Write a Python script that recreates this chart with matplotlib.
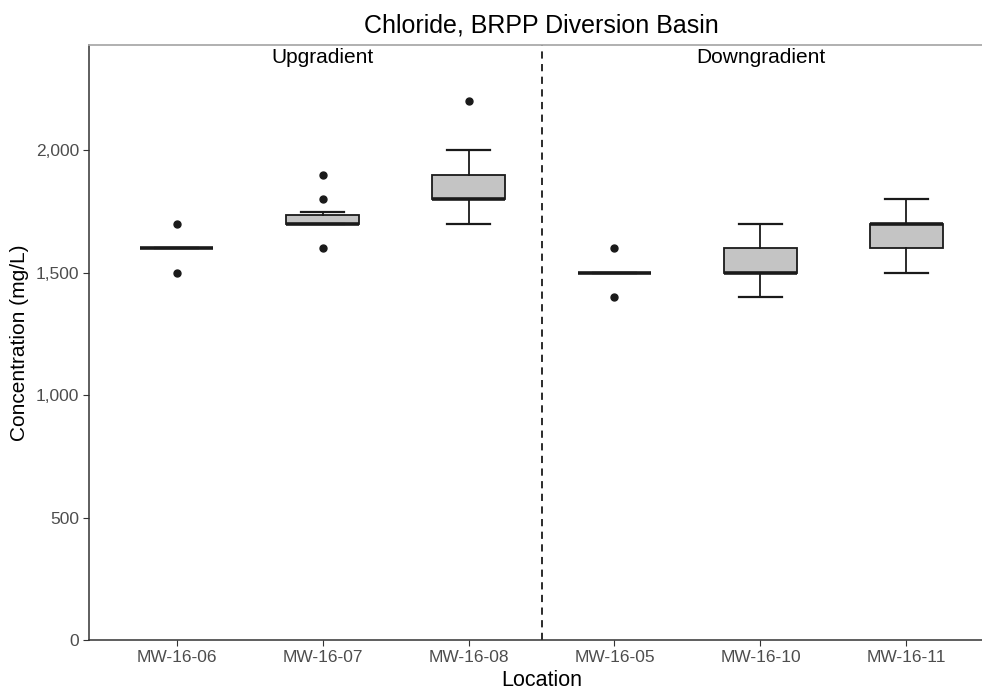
import matplotlib
matplotlib.use("Agg")
import matplotlib.pyplot as plt
from matplotlib.ticker import FuncFormatter

plt.rcParams['font.family'] = ['Liberation Sans', 'DejaVu Sans']

# box statistics (mg/L)
locations = ['MW-16-06', 'MW-16-07', 'MW-16-08', 'MW-16-05', 'MW-16-10', 'MW-16-11']
q1 = [1600, 1700, 1800, 1500, 1500, 1600]
median = [1600, 1700, 1800, 1500, 1500, 1700]
q3 = [1600, 1737.5, 1900, 1500, 1600, 1700]
whislo = [1600, 1700, 1700, 1500, 1400, 1500]
whishi = [1600, 1750, 2000, 1500, 1700, 1800]
fliers = [[1500, 1700], [1600, 1800, 1900], [2200], [1400, 1600], [], []]
groups = ['Upgradient', 'Downgradient']

stats = []
for i in range(len(locations)):
    stats.append(dict(label=locations[i], q1=q1[i], med=median[i], q3=q3[i],
                      whislo=whislo[i], whishi=whishi[i], fliers=fliers[i]))

fig = plt.figure(figsize=(9.82, 6.92), dpi=100)
# right edge of the panel runs past the figure, as in the original
ax = fig.add_axes([89 / 982, 1 - 640 / 692, (994 - 89) / 982, (640 - 45) / 692])

pos = list(range(1, len(locations) + 1))
ax.bxp(stats, positions=pos, widths=0.5, patch_artist=True,
       boxprops=dict(facecolor='#c4c4c4', edgecolor='#1a1a1a', linewidth=1.3),
       medianprops=dict(color='#1a1a1a', linewidth=2.6),
       whiskerprops=dict(color='#1a1a1a', linewidth=1.3),
       capprops=dict(color='#1a1a1a', linewidth=1.6),
       capwidths=0.3,
       flierprops=dict(marker='o', markerfacecolor='#1a1a1a', markeredgecolor='#1a1a1a',
                       markersize=5))

ax.axvline(3.5, color='#1a1a1a', linestyle=(0, (4, 3)), linewidth=1.3)
ax.text(2, 2380, groups[0], ha='center', va='center', fontsize=15)
ax.text(5, 2380, groups[1], ha='center', va='center', fontsize=15)

ax.set_xlim(0.4, 6.6)
ax.set_ylim(0, 2430)
ax.set_yticks([0, 500, 1000, 1500, 2000])
ax.yaxis.set_major_formatter(FuncFormatter(lambda v, p: f'{int(v):,}'))
ax.set_xticks(pos)
ax.set_xticklabels(locations)

for s in ['left', 'bottom']:
    ax.spines[s].set_color('#333333')
    ax.spines[s].set_linewidth(1.1)
ax.spines['top'].set_color('#aaaaaa')
ax.spines['top'].set_linewidth(1.3)
ax.spines['right'].set_visible(False)
ax.tick_params(colors='#333333', labelcolor='#4d4d4d', labelsize=12.5, length=4, pad=3)

ax.set_title('Chloride, BRPP Diversion Basin', fontsize=18, pad=9)
ax.set_xlabel('Location', fontsize=15.5, labelpad=4)
ax.set_ylabel('Concentration (mg/L)', fontsize=15, labelpad=5)

fig.savefig('out.png', dpi=100)
